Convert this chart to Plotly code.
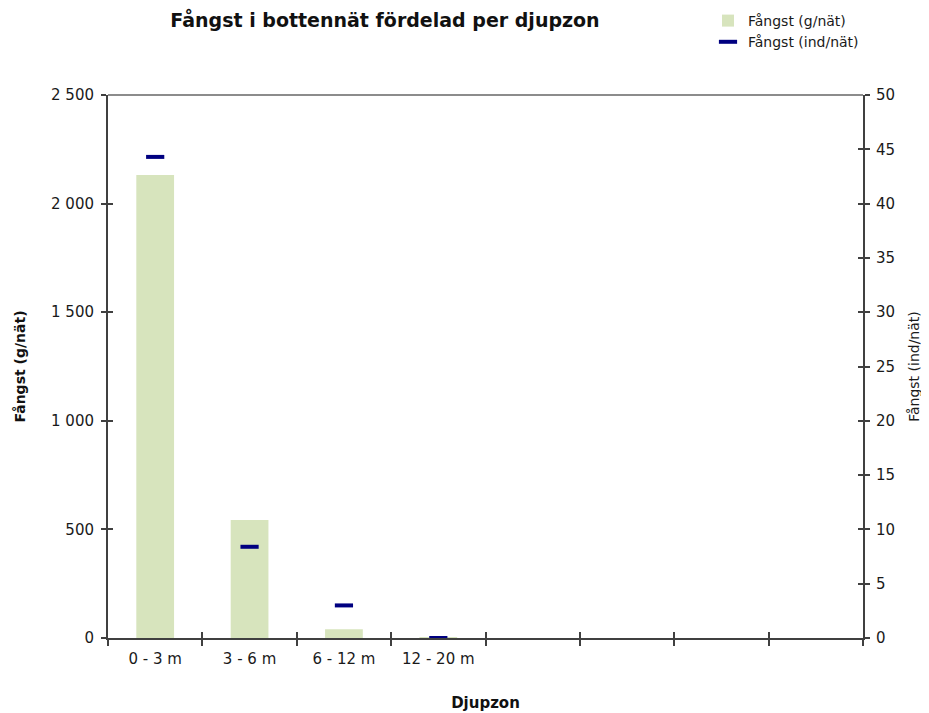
import plotly.graph_objects as go

categories = ["0 - 3 m", "3 - 6 m", "6 - 12 m", "12 - 20 m", " ", "  ", "   ", "    "]
gram_per_net = [2132, 543, 40, 1, None, None, None, None]
ind_per_net = [44.3, 8.4, 3.0, 0.0, None, None, None, None]

title = "Fångst i bottennät fördelad per djupzon"
left_title = "Fångst (g/nät)"
right_title = "Fångst (ind/nät)"
x_title = "Djupzon"

FONT = "DejaVu Sans, Liberation Sans, Arial, sans-serif"
AX = "#404040"
TXT = "#1a1a1a"

# page has an 8px body margin, so the figure is placed at (8, 8)
OFF = 8
W, H = 929 - OFF, 713 - OFF
L, T = 108 - OFF, 95 - OFF
PW, PH = 755, 543
R, B = W - L - PW, H - T - PH

fig = go.Figure()
fig.add_trace(go.Bar(
    x=categories, y=gram_per_net, name="Fångst (g/nät)",
    marker=dict(color="#D7E4BD", line=dict(width=0)),
    width=0.4, yaxis="y", xaxis="x",
))
fig.add_trace(go.Scatter(
    x=categories, y=ind_per_net, name="Fångst (ind/nät)", mode="markers",
    marker=dict(symbol="line-ew-open", size=13, color="#000080",
                line=dict(width=4, color="#000080")),
    yaxis="y2", xaxis="x", cliponaxis=False,
))
# invisible helpers to activate the inside-tick axes
fig.add_trace(go.Scatter(x=[categories[0]], y=[None], yaxis="y3", showlegend=False, hoverinfo="skip"))
fig.add_trace(go.Scatter(x=[categories[0]], y=[None], yaxis="y4", showlegend=False, hoverinfo="skip"))
fig.add_trace(go.Scatter(x=[categories[0]], y=[None], xaxis="x2", yaxis="y", showlegend=False, hoverinfo="skip"))

yticks_left = [0, 500, 1000, 1500, 2000, 2500]
yticks_right = list(range(0, 55, 5))

fig.update_layout(
    width=W, height=H,
    margin=dict(l=L, r=R, t=T, b=B, autoexpand=False),
    paper_bgcolor="white", plot_bgcolor="white",
    separators=". ",
    font=dict(family=FONT, size=15, color=TXT),
    title=dict(text="<b>" + title + "</b>", x=(385 - OFF) / W, xanchor="center",
               y=1 - (20 - OFF) / H, yanchor="middle",
               font=dict(size=19, color="#111111", family=FONT)),
    showlegend=True,
    legend=dict(x=(708 - OFF - L) / PW, y=1 + (T + 3) / PH, xanchor="left", yanchor="top",
                font=dict(size=14, color=TXT), itemwidth=30,
                tracegroupgap=0, bgcolor="rgba(0,0,0,0)"),
    xaxis=dict(
        type="category", categoryorder="array", categoryarray=categories,
        range=[-0.5, 7.5], showline=True, linecolor=AX, linewidth=2,
        ticks="outside", ticklen=6, tickwidth=1.5, tickcolor=AX, tickson="boundaries",
        showgrid=False, zeroline=False, automargin=False, ticklabelstandoff=6,
        tickfont=dict(size=15, color=TXT),
        title=dict(text="<b>" + x_title + "</b>", font=dict(size=15, color="#111111"), standoff=30),
    ),
    xaxis2=dict(
        type="category", categoryorder="array", categoryarray=categories,
        range=[-0.5, 7.5], overlaying="x", side="bottom", anchor="y",
        ticks="inside", ticklen=6, tickwidth=1.5, tickcolor=AX, tickson="boundaries",
        showticklabels=False, showgrid=False, zeroline=False, showline=False,
    ),
    yaxis=dict(
        range=[0, 2500], tickvals=yticks_left,
        tickformat=",d", showline=True, linecolor=AX, linewidth=2,
        ticks="outside", ticklen=5, tickwidth=1.5, tickcolor=AX, showgrid=False, zeroline=False,
        automargin=False, ticklabelstandoff=4,
        tickfont=dict(size=15, color=TXT),
        title=dict(text="<b>" + left_title + "</b>", font=dict(size=14, color="#111111"), standoff=22),
    ),
    yaxis2=dict(
        range=[0, 50], tickvals=yticks_right, overlaying="y", side="right",
        showline=True, linecolor=AX, linewidth=2,
        ticks="outside", ticklen=5, tickwidth=1.5, tickcolor=AX, showgrid=False, zeroline=False,
        automargin=False, ticklabelstandoff=3,
        tickfont=dict(size=15, color=TXT),
        title=dict(text=right_title, font=dict(size=14, color=TXT), standoff=15),
    ),
    yaxis3=dict(range=[0, 2500], tickvals=yticks_left, overlaying="y",
                side="left", ticks="inside", ticklen=5, tickwidth=1.5, tickcolor=AX,
                showticklabels=False, showgrid=False, zeroline=False, showline=False),
    yaxis4=dict(range=[0, 50], tickvals=yticks_right, overlaying="y", side="right",
                ticks="inside", ticklen=5, tickwidth=1.5, tickcolor=AX, showticklabels=False,
                showgrid=False, zeroline=False, showline=False),
    shapes=[dict(type="line", xref="paper", yref="paper", x0=0, x1=1, y0=1, y1=1,
                 line=dict(color="#8c8c8c", width=2))],
)

fig.write_html("out.html")
